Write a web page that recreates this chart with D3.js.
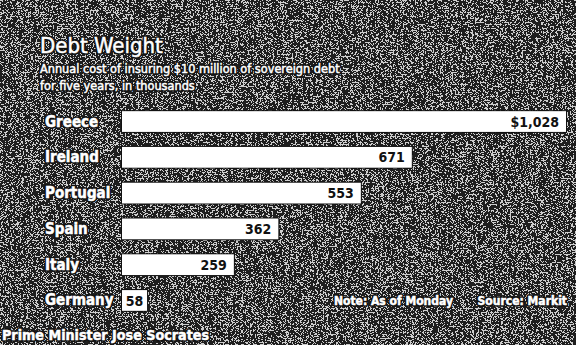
<!DOCTYPE html>
<html>
<head>
<meta charset="utf-8">
<script src="https://cdn.jsdelivr.net/npm/d3@7"></script>
<style>
  html, body { margin: 0; padding: 0; background: #000; }
  svg { display: block; }
</style>
</head>
<body>
<svg id="chart" width="576" height="345"></svg>
<script>
const countries = ["Greece", "Ireland", "Portugal", "Spain", "Italy", "Germany"];
const costs = [1028, 671, 553, 362, 259, 58];
const valueLabels = ["$1,028", "671", "553", "362", "259", "58"];

const W = 576, H = 345;
const svg = d3.select("#chart");
const narrow = "'DejaVu Sans Condensed', 'Liberation Sans Narrow', sans-serif";

// grainy halftone ground
const defs = svg.append("defs");
const f = defs.append("filter").attr("id", "grain")
  .attr("x", 0).attr("y", 0).attr("width", W).attr("height", H)
  .attr("filterUnits", "userSpaceOnUse");
f.append("feTurbulence").attr("type", "fractalNoise")
  .attr("baseFrequency", "0.6 1.5").attr("numOctaves", 2).attr("seed", 11);
f.append("feColorMatrix").attr("type", "matrix")
  .attr("values", "0 0 0 0 1  0 0 0 0 1  0 0 0 0 1  1 0 0 0 0");
f.append("feComponentTransfer").append("feFuncA").attr("type", "discrete")
  .attr("tableValues", "0 0 0 0 0 0 0 0 0 0 0 1 1 1 1 1 1 1 1 1");

svg.append("rect").attr("width", W).attr("height", H).attr("fill", "#1e1e1e");
svg.append("rect").attr("width", W).attr("height", H).attr("fill", "#fff")
  .attr("filter", "url(#grain)").attr("opacity", 0.78);

// white type on a dark halo so it reads over the grain
function label(x, y, txt, size, weight, anchor) {
  const g = svg.append("g")
    .attr("font-family", narrow).attr("font-size", size)
    .attr("font-weight", weight || "normal")
    .attr("text-anchor", anchor || "start");
  g.append("text").attr("x", x).attr("y", y)
    .attr("fill", "#111").attr("stroke", "#111").attr("stroke-width", 3.5)
    .attr("stroke-linejoin", "round").text(txt);
  g.append("text").attr("x", x).attr("y", y)
    .attr("fill", "#fff").attr("stroke", "#fff").attr("stroke-width", 0.5)
    .text(txt);
  return g;
}

// headline
label(40, 53, "Debt Weight", 22);
label(40, 73, "Annual cost of insuring $10 million of sovereign debt", 12.6);
label(40, 90, "for five years, in thousands", 12.6);

// bars
const x = d3.scaleLinear().domain([0, 1028]).range([122, 566]);
const y = d3.scaleBand().domain(countries).range([104, 318]).paddingInner(0.42).paddingOuter(0.2);

const data = countries.map((c, i) => ({ c, v: costs[i], label: valueLabels[i] }));
const rows = svg.append("g").selectAll("g").data(data).join("g");

rows.append("rect")
  .attr("x", x(0))
  .attr("y", d => y(d.c))
  .attr("width", d => x(d.v) - x(0))
  .attr("height", y.bandwidth())
  .attr("fill", "#fff")
  .attr("stroke", "#111").attr("stroke-width", 2).attr("paint-order", "stroke");

rows.append("text")
  .attr("x", d => d.v < 100 ? (x(0) + x(d.v)) / 2 : x(d.v) - 7)
  .attr("y", d => y(d.c) + y.bandwidth() / 2)
  .attr("dy", "0.36em")
  .attr("text-anchor", d => d.v < 100 ? "middle" : "end")
  .attr("font-family", narrow).attr("font-weight", "bold").attr("font-size", 14)
  .attr("fill", "#111")
  .text(d => d.label);

data.forEach(d => {
  label(45, y(d.c) + y.bandwidth() / 2 + 5, d.c, 15, "bold");
});

// footnotes
label(334, 305, "Note: As of Monday", 12, "bold");
label(567, 305, "Source: Markit", 12, "bold", "end");
label(2, 340, "Prime Minister Jose Socrates", 14.2, "bold");
</script>
</body>
</html>
